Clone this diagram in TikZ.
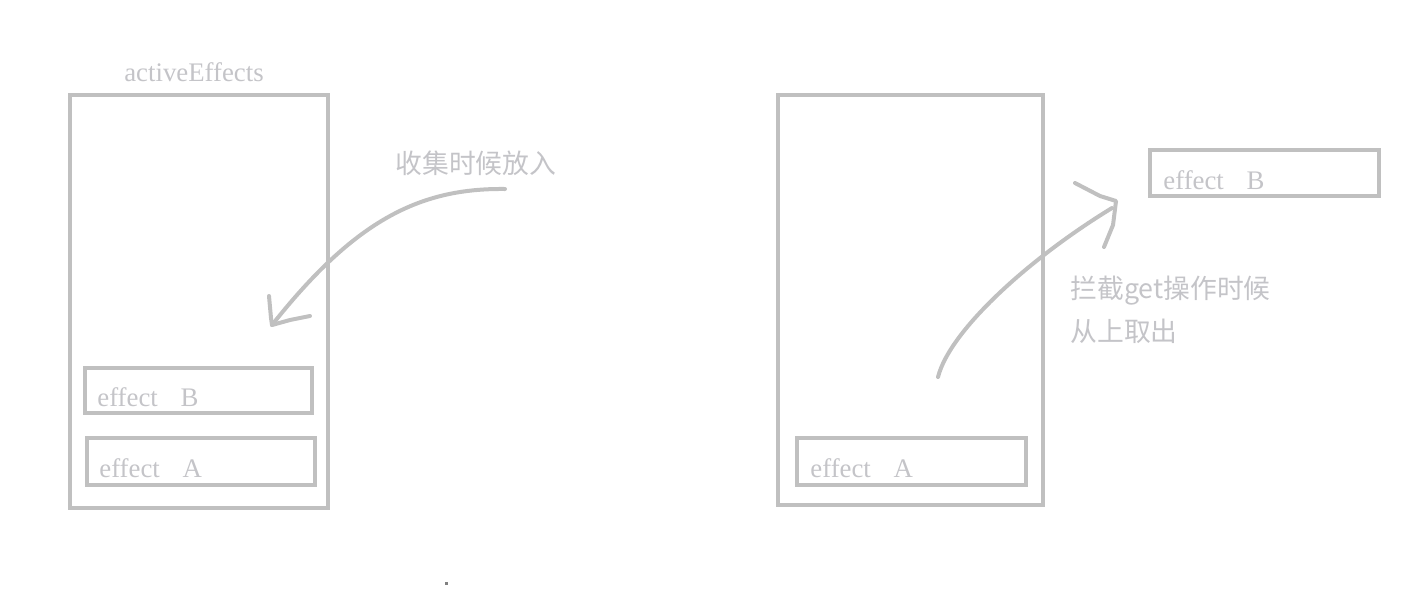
\documentclass[tikz,border=0pt]{standalone}
\usepackage{fontspec}
\setmainfont{Liberation Serif}
\newfontfamily\cjk{Noto Sans CJK SC}
\definecolor{lg}{RGB}{192,192,192}
\definecolor{tg}{RGB}{196,196,200}
\begin{document}
\begin{tikzpicture}[x=0.5pt,y=-0.5pt,
  box/.style={draw=lg,line width=2pt,inner sep=0pt,anchor=center},
  lbl/.style={text=tg,inner sep=0pt,anchor=base west,font=\fontsize{13.4}{15}\selectfont},
  cn/.style={text=tg,inner sep=0pt,anchor=west,font=\cjk\fontsize{13.4}{15}\selectfont},
  stroke/.style={draw=lg,line width=2pt,line cap=round,line join=round}]
\useasboundingbox (0,0) rectangle (1422,600);
% left stack
\node[box,minimum width=129pt,minimum height=206.5pt] (lout) at (199,301.5) {};
\node[box,minimum width=113.5pt,minimum height=22.5pt] (lb) at (198.5,390.5) {};
\node[box,minimum width=114pt,minimum height=23.5pt] (la) at (201,461.5) {};
\node[lbl] (lbt) at (97,406) {effect\hspace{0.85em}B};
\node[lbl] (lat) at (99,477) {effect\hspace{0.85em}A};
\node[lbl,anchor=base] (title) at (194,81) {activeEffects};
% right stack
\node[box,minimum width=132.5pt,minimum height=205pt] (rout) at (910.5,300) {};
\node[box,minimum width=114.5pt,minimum height=23.5pt] (ra) at (911.5,461.5) {};
\node[box,minimum width=114.5pt,minimum height=23pt] (rb) at (1264.5,173) {};
\node[lbl] (rat) at (810,477) {effect\hspace{0.85em}A};
\node[lbl] (rbt) at (1163,189) {effect\hspace{0.85em}B};
% texts
\node[cn] (put) at (395,163) {收集时候放入};
\node[cn] (get1) at (1070,291) {拦截get操作时候};
\node[cn] (get2) at (1070,331) {从上取出};
% left arrow
\coordinate (la0) at (505,189);
\coordinate (la1) at (272,325);
\draw[stroke] (la0) .. controls (420,188) and (355,220) .. (la1);
\draw[stroke] (269,296) -- (271,318) -- (la1) -- (290,320) -- (310,316);
% right arrow
\coordinate (ra0) at (938,377);
\coordinate (ra1) at (1112,208);
\draw[stroke] (ra0) .. controls (950,330) and (1030,258) .. (ra1);
\draw[stroke] (1075,183) -- (1100,196) -- (1116,201) -- (1113,225) -- (1104,247);
% tiny dot
\fill[gray] (445,582) rectangle (448,585);
\end{tikzpicture}
\end{document}
